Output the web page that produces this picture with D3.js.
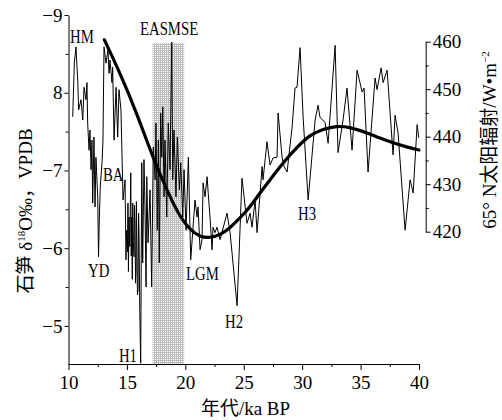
<!DOCTYPE html>
<html>
<head>
<meta charset="utf-8">
<script src="https://cdn.jsdelivr.net/npm/d3@7"></script>
<style>
body { margin: 0; background: #fff; }
text { font-family: "Liberation Serif", "Noto Sans CJK SC", serif; fill: #000; }
</style>
</head>
<body>
<svg id="chart" width="502" height="420"></svg>
<script>
// 石笋 δ18O 记录 (ka BP, ‰ VPDB)
var ages = [10.36,10.50,10.64,10.79,10.87,11.07,11.22,11.33,11.50,11.58,
    11.64,11.76,11.84,11.93,12.01,12.07,12.18,12.27,12.35,12.50,
    12.57,12.64,12.72,12.87,12.95,13.04,13.21,13.38,13.47,13.55,
    13.72,13.78,13.90,14.07,14.21,14.32,14.49,14.67,14.84,14.92,
    14.98,15.05,15.09,15.13,15.18,15.25,15.33,15.37,15.41,15.46,
    15.50,15.55,15.61,15.65,15.69,15.74,15.78,15.81,15.84,15.90,
    15.95,16.00,16.04,16.10,16.18,16.27,16.35,16.46,16.55,16.64,
    16.70,16.81,16.98,17.12,17.26,17.41,17.49,17.60,17.69,17.77,
    17.89,17.98,18.07,18.18,18.26,18.41,18.54,18.69,18.84,18.92,
    19.03,19.20,19.32,19.49,19.61,19.78,19.89,20.06,20.26,20.46,
    20.83,21.00,21.09,21.26,21.43,21.52,21.69,21.86,21.94,22.11,
    22.29,22.37,22.54,22.71,22.97,23.57,23.83,24.43,24.85,25.28,
    25.54,25.71,25.97,26.14,26.57,26.65,26.99,27.25,27.51,27.85,
    27.94,28.28,28.45,28.71,29.14,29.39,29.56,29.82,30.08,30.51,
    31.11,31.36,31.53,31.96,32.22,32.82,33.07,33.50,33.84,34.27,
    34.70,35.13,35.30,35.64,36.24,36.41,36.76,36.93,37.27,37.78,
    37.95,38.21,38.81,39.24,39.50,39.84,39.98];
var d18o = [-7.69,-8.38,-8.59,-8.16,-7.78,-7.91,-7.65,-8.07,-7.91,-8.13,
    -7.61,-7.26,-7.52,-7.01,-7.39,-6.58,-7.43,-6.53,-7.17,-6.66,
    -5.89,-6.40,-6.79,-7.10,-7.39,-8.59,-8.38,-8.55,-8.25,-8.42,
    -8.13,-8.33,-7.39,-8.07,-7.43,-8.04,-7.78,-6.62,-6.88,-5.85,
    -6.23,-5.95,-6.58,-5.70,-6.40,-6.02,-6.97,-5.90,-6.40,-5.60,
    -6.58,-6.10,-5.89,-6.55,-6.32,-5.55,-5.72,-6.60,-6.23,-5.40,
    -5.46,-6.45,-6.14,-5.20,-4.52,-7.10,-5.81,-7.14,-6.49,-5.50,
    -6.92,-6.07,-6.75,-5.50,-7.30,-6.88,-7.61,-6.23,-7.39,-5.81,
    -7.74,-7.17,-7.82,-6.66,-7.39,-6.40,-7.61,-7.01,-8.65,-6.88,
    -7.52,-6.66,-7.43,-6.75,-7.10,-6.40,-7.01,-6.23,-7.17,-5.85,
    -6.62,-6.40,-6.53,-5.98,-6.11,-6.84,-6.66,-6.92,-6.75,-6.40,
    -5.98,-6.27,-6.20,-6.27,-6.11,-6.45,-6.20,-5.26,-6.90,-6.32,
    -6.45,-6.27,-6.62,-6.20,-7.05,-6.88,-7.37,-7.07,-7.16,-7.17,
    -7.74,-7.17,-7.05,-6.98,-7.56,-8.06,-8.07,-8.58,-7.69,-6.62,
    -7.65,-7.84,-7.68,-7.62,-7.35,-8.61,-7.23,-7.65,-8.06,-7.26,
    -8.29,-8.01,-8.06,-6.98,-8.19,-8.04,-8.32,-8.13,-8.29,-7.20,
    -7.71,-7.48,-6.23,-6.88,-6.71,-7.59,-7.42];

// 65°N 夏季太阳辐射 (W/m2)
var insolAges = [13.07,14.41,15.84,17.23,18.69,19.55,20.40,21.26,22.11,22.97,23.83,24.68,25.54,
    26.40,27.25,28.36,29.56,30.67,31.78,32.98,34.09,35.55,36.66,37.78,38.97,40.0];
var insolVals = [460.4,453.4,445.0,435.5,427.3,423.1,420.4,418.9,418.7,419.3,420.8,422.9,425.2,
    428.2,430.9,434.5,437.8,440.4,441.6,442.3,442.0,440.8,439.7,438.7,437.8,437.2];

var xTicks = [10,15,20,25,30,35,40];
var xMinor = [12.5,17.5,22.5,27.5,32.5,37.5];
var yTicks = [-9,-8,-7,-6,-5];
var yTickLabels = ["\u22129","8","\u22127","\u22126","\u22125"];
var yMinor = [-8.5,-7.5,-6.5,-5.5];
var rTicks = [420,430,440,450,460];
var rMinor = [425,435,445,455];

// EASMSE 阴影区间
var shadeAges = [17.2, 19.9];
var shadeTop = -8.64;

var events = ["HM","EASMSE","BA","YD","H1","LGM","H2","H3"];
var eventAges = [10.13,16.12,12.95,11.67,14.32,20.06,23.40,29.65];
var eventVals = [-8.64,-8.74,-6.86,-5.63,-4.54,-5.59,-4.97,-6.36];

var svg = d3.select("#chart");

var x = d3.scaleLinear().domain([10, 40]).range([68.5, 419]);
var y = d3.scaleLinear().domain([-9, -4.51]).range([15, 364]);
var yr = d3.scaleLinear().domain([420, 460]).range([231.7, 41.7]);

// 阴影图案
var pat = svg.append("defs").append("pattern")
    .attr("id", "dots")
    .attr("width", 2).attr("height", 2)
    .attr("patternUnits", "userSpaceOnUse");
pat.append("rect").attr("width", 2).attr("height", 2).attr("fill", "#fff");
pat.append("rect").attr("width", 2).attr("height", 1).attr("fill", "#bdbdbd");
pat.append("rect").attr("width", 1).attr("height", 2).attr("fill", "#bdbdbd");

svg.append("rect")
    .attr("x", x(shadeAges[0]))
    .attr("y", y(shadeTop))
    .attr("width", x(shadeAges[1]) - x(shadeAges[0]))
    .attr("height", y.range()[1] - y(shadeTop))
    .attr("fill", "url(#dots)");

// axes
function styleAxis(g, size) {
    g.selectAll("path,line").attr("stroke", "#000").attr("stroke-width", 1);
    g.selectAll("text")
        .attr("font-family", "Liberation Serif, serif")
        .attr("font-size", size)
        .attr("fill", "#000");
    g.attr("font-family", null);
}

var gx = svg.append("g")
    .attr("transform", "translate(0," + y.range()[1] + ")")
    .call(d3.axisBottom(x).tickValues(xTicks).tickSize(6).tickSizeOuter(0).tickPadding(6));
styleAxis(gx, 19);
svg.append("g")
    .attr("transform", "translate(0," + y.range()[1] + ")")
    .call(d3.axisBottom(x).tickValues(xMinor).tickSize(3).tickFormat(""))
    .call(function(g){ g.select(".domain").remove(); styleAxis(g, 19); });

var gy = svg.append("g")
    .attr("transform", "translate(" + x.range()[0] + ",0)")
    .call(d3.axisLeft(y).tickValues(yTicks).tickSize(4).tickSizeOuter(0).tickPadding(2)
        .tickFormat(function(d, i){ return yTickLabels[i]; }));
styleAxis(gy, 19);
svg.append("g")
    .attr("transform", "translate(" + x.range()[0] + ",0)")
    .call(d3.axisLeft(y).tickValues(yMinor).tickSize(3).tickFormat(""))
    .call(function(g){ g.select(".domain").remove(); styleAxis(g, 19); });

var gr = svg.append("g")
    .attr("transform", "translate(" + 425.7 + ",0)")
    .call(d3.axisRight(yr).tickValues(rTicks).tickSize(5).tickSizeOuter(0).tickPadding(2));
styleAxis(gr, 19);
svg.append("g")
    .attr("transform", "translate(" + 425.7 + ",0)")
    .call(d3.axisRight(yr).tickValues(rMinor).tickSize(3).tickFormat(""))
    .call(function(g){ g.select(".domain").remove(); styleAxis(g, 19); });

// δ18O thin line
var thin = d3.line()
    .x(function(d){ return x(d[0]); })
    .y(function(d){ return y(d[1]); });
svg.append("path")
    .datum(d3.zip(ages, d18o))
    .attr("d", thin)
    .attr("fill", "none")
    .attr("stroke", "#000")
    .attr("stroke-width", 1)
    .attr("stroke-linejoin", "miter");

// insolation thick line
var thick = d3.line()
    .curve(d3.curveBasis)
    .x(function(d){ return x(d[0]); })
    .y(function(d){ return yr(d[1]); });
svg.append("path")
    .datum(d3.zip(insolAges, insolVals))
    .attr("d", thick)
    .attr("fill", "none")
    .attr("stroke", "#000")
    .attr("stroke-width", 3.2)
    .attr("stroke-linecap", "round");

// event labels
svg.append("g").selectAll("text")
    .data(events)
    .enter().append("text")
    .attr("transform", function(d, i){
        return "translate(" + x(eventAges[i]) + "," + y(eventVals[i]) + ") scale(0.82,1)";
    })
    .attr("font-size", 18)
    .text(function(d){ return d; });

// axis titles
svg.append("text")
    .attr("x", 245.5).attr("y", 415)
    .attr("text-anchor", "middle")
    .attr("font-size", 19)
    .text("年代/ka BP");

var lt = svg.append("text")
    .attr("transform", "translate(32,211) rotate(-90)")
    .attr("text-anchor", "middle")
    .attr("font-size", 19);
lt.append("tspan").text("石笋 δ");
lt.append("tspan").attr("font-size", 11).attr("dy", -7).text("18");
lt.append("tspan").attr("dy", 7).text("O‰，VPDB");

var rt = svg.append("text")
    .attr("transform", "translate(496,140) rotate(-90)")
    .attr("text-anchor", "middle")
    .attr("font-size", 19);
rt.append("tspan").text("65° N太阳辐射/W•m");
rt.append("tspan").attr("font-size", 11).attr("dy", -7).text("−2");
</script>
</body>
</html>
